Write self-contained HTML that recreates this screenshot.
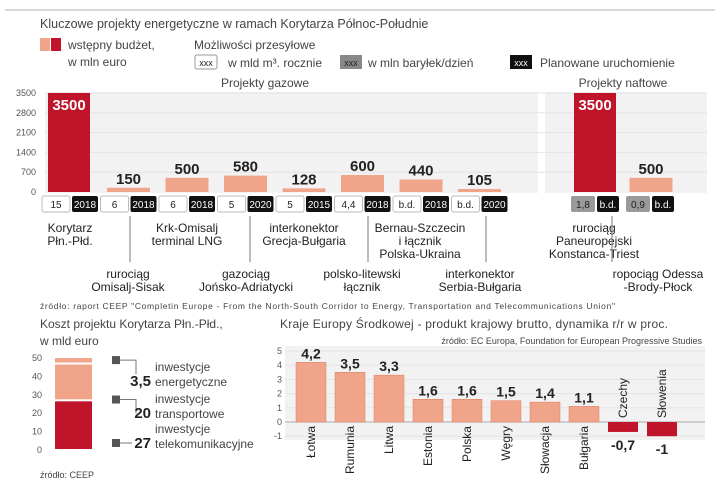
<!DOCTYPE html>
<html><head><meta charset="utf-8"><style>
body{margin:0;background:#fff;width:717px;height:487px;overflow:hidden;font-family:"Liberation Sans",sans-serif}
svg{display:block}
text{font-family:"Liberation Sans",sans-serif}
</style></head><body>
<svg id="s" width="717" height="487" viewBox="0 0 717 487">
<line x1="5" y1="10" x2="715" y2="10" stroke="#ccc" stroke-width="1.5"/>
<text x="40" y="28" font-size="12.5" fill="#444">Kluczowe projekty energetyczne w ramach Korytarza Północ-Południe</text>
<g>
<rect x="40" y="38" width="10" height="13" fill="#f0a48a"/>
<rect x="51" y="38" width="10" height="13" fill="#c0142a"/>
<text x="68" y="49" font-size="12" fill="#444">wstępny budżet,</text>
<text x="68" y="66" font-size="12" fill="#444">w mln euro</text>
<text x="194" y="49" font-size="12" fill="#444">Możliwości przesyłowe</text>
<rect x="195" y="55" width="22" height="14" fill="#fff" stroke="#999" rx="2"/>
<text x="206" y="66" font-size="9" text-anchor="middle" fill="#222">xxx</text>
<text x="228" y="67" font-size="12" fill="#444">w mld m³. rocznie</text>
<rect x="340" y="55" width="22" height="14" fill="#888"/>
<text x="351" y="66" font-size="9" text-anchor="middle" fill="#222">xxx</text>
<text x="368" y="67" font-size="12" fill="#444">w mln baryłek/dzień</text>
<rect x="510" y="55" width="22" height="14" fill="#111"/>
<text x="521" y="66" font-size="9" text-anchor="middle" fill="#fff">xxx</text>
<text x="540" y="67" font-size="12" fill="#444">Planowane uruchomienie</text>
</g>
<text x="265" y="87" font-size="12" fill="#444" text-anchor="middle">Projekty gazowe</text>
<text x="623" y="87" font-size="12" fill="#444" text-anchor="middle">Projekty naftowe</text>
<rect x="45" y="92" width="493" height="101" fill="#f2f2f2"/>
<rect x="545" y="92" width="162" height="101" fill="#f2f2f2"/>
<g id="c1"></g>
<text x="40" y="309" font-size="8.5" fill="#444" textLength="575">źródło: raport CEEP "Completin Europe - From the North-South Corridor to Energy, Transportation and Telecommunications Union"</text>
<text x="40" y="328" font-size="12" fill="#444">Koszt projektu Korytarza Płn.-Płd.,</text>
<text x="40" y="345" font-size="12" fill="#444">w mld euro</text>
<g id="c2"></g>
<text x="40" y="478" font-size="9" fill="#444">źródło: CEEP</text>
<text x="280" y="328" font-size="12" fill="#444" textLength="388">Kraje Europy Środkowej - produkt krajowy brutto, dynamika r/r w proc.</text>
<text x="702" y="344" font-size="9" fill="#444" text-anchor="end">źródło: EC Europa, Foundation for European Progressive Studies</text>
<rect x="285" y="346" width="420" height="94" fill="#f2f2f2"/>
<g id="c3"></g>
</svg>
<script>
const budgetValues=[3500,150,500,580,128,600,440,105,3500,500];
const capacityLabels=["15","6","6","5","5","4,4","b.d.","b.d.","1,8","0,9"];
const launchLabels=["2018","2018","2018","2020","2015","2018","2018","2020","b.d.","b.d."];
const budgetTicks=[0,700,1400,2100,2800,3500];
const costValues=[27,20,3.5];
const costTicks=[0,10,20,30,40,50];
const gdpCountries=["Łotwa","Rumunia","Litwa","Estonia","Polska","Węgry","Słowacja","Bułgaria","Czechy","Słowenia"];
const gdpValues=[4.2,3.5,3.3,1.6,1.6,1.5,1.4,1.1,-0.7,-1];
const gdpLabels=["4,2","3,5","3,3","1,6","1,6","1,5","1,4","1,1","-0,7","-1"];
const gdpTicks=[-1,0,1,2,3,4,5];
const NS="http://www.w3.org/2000/svg";
function mk(p,t,a,txt){const e=document.createElementNS(NS,t);for(const k in a)e.setAttribute(k,a[k]);if(txt!==undefined)e.textContent=txt;p.appendChild(e);return e;}
// chart 1
const c1=document.getElementById('c1');
const y1=v=>192-v/3500*99;
const xc=i=>i<8?70+i*58.5:596+(i-8)*55;
budgetTicks.forEach(t=>{
 const tk=mk(c1,'text',{x:36,y:y1(t)+3,'font-size':9,fill:'#555','text-anchor':'end'},t);
 
 
 if(t>0){const gl=mk(c1,'line',{x1:45,x2:707,y1:y1(t),y2:y1(t),stroke:'#e4e4e4'});
 
 }
});
budgetValues.forEach((v,i)=>{
 const big=v>=1000;const w=big?42:43;const cx=xc(i)+(big?-1:0);
 const h=Math.max(192-y1(v),3);
 const r=mk(c1,'rect',{x:cx-w/2,y:192-h,width:w,height:h,fill:big?'#c0142a':'#f0a48a'});
 
 
 const lb=mk(c1,'text',{x:cx,y:big?y1(v)+17:192-h-4,'font-size':15,'font-weight':'bold',fill:big?'#fff':'#222','text-anchor':'middle'},v);
 
 
 const gx=xc(i)-28;const oil=i>=8;
 const b1=mk(c1,'rect',{x:oil?gx+3:gx,y:196,width:oil?24:28,height:16,rx:2,fill:oil?'#9a9a9a':'#fff',stroke:oil?'none':'#bbb'});
 
 
 const t1=mk(c1,'text',{x:oil?gx+15:gx+14,y:208,'font-size':10,fill:'#222','text-anchor':'middle'},capacityLabels[i]);
 
 
 const b2=mk(c1,'rect',{x:oil?gx+29:gx+30,y:196,width:oil?22:26,height:16,rx:2,fill:'#111'});
 
 
 const t2=mk(c1,'text',{x:oil?gx+40:gx+43,y:208,'font-size':10,fill:'#fff','text-anchor':'middle'},launchLabels[i]);
 
 
});
const names=[[70,232,["Korytarz","Płn.-Płd."]],[128,278,["rurociąg","Omisalj-Sisak"]],[187,232,["Krk-Omisalj","terminal LNG"]],[246,278,["gazociąg","Jońsko-Adriatycki"]],[304,232,["interkonektor","Grecja-Bułgaria"]],[362,278,["polsko-litewski","łącznik"]],[420,232,["Bernau-Szczecin","i łącznik","Polska-Ukraina"]],[480,278,["interkonektor","Serbia-Bułgaria"]],[594,232,["rurociąg","Paneuropejski","Konstanca-Triest"]],[658,278,["ropociąg Odessa","-Brody-Płock"]]];
names.forEach(n=>{n[2].forEach((s,j)=>{const t=mk(c1,'text',{x:n[0],y:n[1]+j*13,'font-size':12,fill:'#222','text-anchor':'middle'},s);
 
 });});
[130,250,368,486,612].forEach(x=>{const ln=mk(c1,'line',{x1:x,x2:x,y1:216,y2:262,stroke:'#777'});
 
 });
// chart 2
const c2=document.getElementById('c2');
const y2=v=>450-v*1.84;
costTicks.forEach(t=>{const tk=mk(c2,'text',{x:42,y:y2(t)+3,'font-size':9,fill:'#555','text-anchor':'end'},t);
 
 });
let acc=0;const segCol=['#c0142a','#f0a48a','#f0a48a'];const segName=['inwestycje|telekomunikacyjne','inwestycje|transportowe','inwestycje|energetyczne'];
const labYs=[448,418,386];
costValues.forEach((v,i)=>{
 const top=y2(acc+v),bot=y2(acc);
 const r=mk(c2,'rect',{x:55,y:top+1,width:37,height:bot-top-2,fill:segCol[i]});
 
 
 const my=i==0?bot-7:(i==1?top+36:top+3);
 const labY=labYs[i];
 const m=mk(c2,'rect',{x:112,y:my-4,width:8,height:8,fill:'#555'});
 
 
 const ln=mk(c2,'path',{d:i==0?`M120 ${my} H132`:`M120 ${my} H136 V${my+14}`,stroke:'#777',fill:'none'});
 
 
 const vl=mk(c2,'text',{x:151,y:labY,'font-size':15,'font-weight':'bold',fill:'#222','text-anchor':'end'},String(v).replace('.',','));
 
 
 const p=segName[i].split('|');
 const a=mk(c2,'text',{x:155,y:labY-15,'font-size':12,fill:'#444'},p[0]);
 
 
 const b=mk(c2,'text',{x:155,y:labY,'font-size':12,fill:'#444'},p[1]);
 
 
 acc+=v;
});
// chart 3
const c3=document.getElementById('c3');
const y3=v=>422-v*14.2;
const x3=i=>311+i*39;
gdpTicks.forEach(t=>{const tk=mk(c3,'text',{x:282,y:y3(t)+3,'font-size':9,fill:'#555','text-anchor':'end'},t);
 
 
 const gl=mk(c3,'line',{x1:285,x2:705,y1:y3(t),y2:y3(t),stroke:t==0?'#aaa':'#e4e4e4'});
 
 });
gdpValues.forEach((v,i)=>{
 const neg=v<0;const yt=neg?y3(0):y3(v);const h=Math.abs(y3(v)-y3(0));
 const r=mk(c3,'rect',{x:x3(i)-15,y:yt,width:30,height:h,fill:neg?'#c0142a':'#f0a48a',stroke:neg?'none':'#e07a62','stroke-width':0.5});
 
 
 const lb=mk(c3,'text',{x:x3(i),y:neg?y3(v)+18:y3(v)-4,'font-size':14,'font-weight':'bold',fill:'#222','text-anchor':'middle'},gdpLabels[i]);
 
 
 const cx=x3(i)+4,cy=neg?y3(0)-4:y3(0)+4;
 const ct=mk(c3,'text',{x:cx,y:cy,'font-size':12,fill:'#222','text-anchor':neg?'start':'end',transform:`rotate(-90 ${cx} ${cy})`},gdpCountries[i]);
 
 
});
</script>
</body></html>
